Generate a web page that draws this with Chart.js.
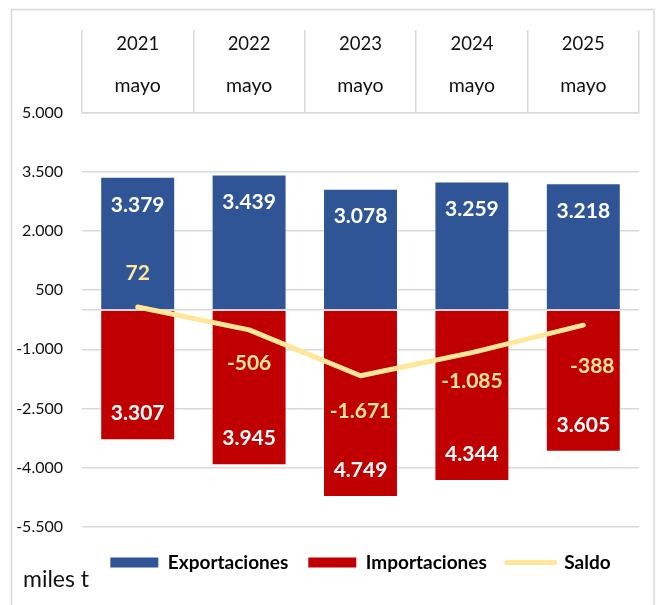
<!DOCTYPE html>
<html>
<head>
<meta charset="utf-8">
<script src="https://cdn.jsdelivr.net/npm/chart.js@4.4.1/dist/chart.umd.min.js"></script>
<style>
  html, body { margin: 0; padding: 0; background: #ffffff; }
  #wrap { position: relative; width: 660px; height: 605px; }
  canvas { display: block; }
</style>
</head>
<body>
<div id="wrap"><canvas id="c" width="660" height="605"></canvas></div>
<script>
// ---- data ----
const years = ['2021', '2022', '2023', '2024', '2025'];
const months = ['mayo', 'mayo', 'mayo', 'mayo', 'mayo'];
const exportaciones = [3379, 3439, 3078, 3259, 3218];
const importaciones = [-3307, -3945, -4749, -4344, -3605];
const saldo = [72, -506, -1671, -1085, -388];
const seriesNames = ['Exportaciones', 'Importaciones', 'Saldo'];
const unitLabel = 'miles t';
const yMin = -5500, yMax = 5000, yStep = 1500;

// ---- styles ----
const FONT = "Lato, 'Open Sans', 'DejaVu Sans', sans-serif";
const BLUE = '#2F5597';
const RED = '#C00000';
const YELLOW = '#FFE699';
const GRID = '#d9d9d9';
// label offsets for the Saldo values (px, relative to the point)
const saldoLabelDy = [-34, 33, 36, 29, 41];
const saldoLabelDx = [0, 0, 0, 0, 9];

function fmt(v) {
  const s = Math.round(Math.abs(v)).toString().replace(/\B(?=(\d{3})+(?!\d))/g, '.');
  return (v < 0 ? '-' : '') + s;
}

const frame = {
  id: 'frame',
  beforeDraw(chart) {
    const ctx = chart.ctx;
    ctx.save();
    ctx.strokeStyle = GRID;
    ctx.lineWidth = 1.5;
    ctx.strokeRect(11.5, 9.5, 642.5, 700);
    ctx.restore();
  }
};

const header = {
  id: 'header',
  afterDraw(chart) {
    const ctx = chart.ctx;
    const xs = chart.scales.x;
    ctx.save();
    ctx.fillStyle = '#111111';
    ctx.textAlign = 'center';
    ctx.textBaseline = 'middle';
    years.forEach((y, i) => {
      const x = xs.getPixelForValue(i);
      ctx.font = '18.5px ' + FONT;
      ctx.fillText(y, x, 44);
      ctx.font = '19.5px ' + FONT;
      ctx.fillText(months[i], x, 86);
    });
    ctx.font = '23px ' + FONT;
    ctx.textAlign = 'left';
    ctx.fillText(unitLabel, 23, 580);
    ctx.restore();
  }
};

const valueLabels = {
  id: 'valueLabels',
  afterDatasetsDraw(chart) {
    const ctx = chart.ctx;
    ctx.save();
    ctx.font = 'bold 21px ' + FONT;
    ctx.textAlign = 'center';
    ctx.textBaseline = 'middle';
    const mExp = chart.getDatasetMeta(0);
    const mImp = chart.getDatasetMeta(1);
    const mSal = chart.getDatasetMeta(2);
    ctx.fillStyle = '#ffffff';
    mExp.data.forEach((el, i) => ctx.fillText(fmt(exportaciones[i]), el.x, el.y + 28));
    mImp.data.forEach((el, i) => ctx.fillText(fmt(Math.abs(importaciones[i])), el.x, el.y - 27));
    ctx.fillStyle = YELLOW;
    mSal.data.forEach((el, i) => ctx.fillText(fmt(saldo[i]), el.x + saldoLabelDx[i], el.y + saldoLabelDy[i]));
    ctx.restore();
  }
};

new Chart(document.getElementById('c'), {
  type: 'bar',
  data: {
    labels: years,
    datasets: [
      { label: seriesNames[0], data: exportaciones, backgroundColor: BLUE,
        borderColor: 'rgba(255,255,255,0.45)', borderWidth: 1, stack: 's', order: 1,
        barPercentage: 0.673, categoryPercentage: 1 },
      { label: seriesNames[1], data: importaciones, backgroundColor: RED,
        borderColor: 'rgba(255,255,255,0.45)', borderWidth: 1, stack: 's', order: 1,
        barPercentage: 0.673, categoryPercentage: 1 },
      { type: 'line', label: seriesNames[2], data: saldo, borderColor: YELLOW, backgroundColor: YELLOW,
        borderWidth: 5, pointRadius: 0, tension: 0, borderCapStyle: 'round', borderJoinStyle: 'round',
        stack: 'line', order: 0 }
    ]
  },
  options: {
    responsive: false,
    animation: false,
    layout: { padding: { left: 12, right: 21, top: 30, bottom: 23 } },
    scales: {
      x: {
        position: 'top',
        stacked: true,
        grid: { offset: true, drawOnChartArea: false, drawTicks: true, tickLength: 83, color: GRID, lineWidth: 1.5 },
        border: { display: true, color: GRID, width: 1.5 },
        ticks: { display: false }
      },
      y: {
        stacked: true,
        min: yMin, max: yMax,
        afterBuildTicks(scale) {
          scale.ticks.push({ value: 0 });
          scale.ticks.sort((a, b) => a.value - b.value);
        },
        afterFit(scale) { scale.width = 70; },
        ticks: {
          stepSize: yStep,
          padding: 19,
          color: '#111111',
          font: { family: FONT, size: 16 },
          callback: (v) => (v === 0 ? '' : fmt(v))
        },
        grid: { color: GRID, lineWidth: 1.5, drawTicks: false },
        border: { display: false }
      }
    },
    plugins: {
      tooltip: { enabled: false },
      legend: {
        position: 'bottom',
        fullSize: false,
        title: { display: true, text: '', font: { size: 1, lineHeight: 1 }, padding: { top: 5.5, bottom: 0 } },
        labels: {
          color: '#000000',
          font: { family: FONT, size: 19, weight: 'bold' },
          usePointStyle: true,
          pointStyleWidth: 48,
          boxWidth: 48,
          boxHeight: 10,
          padding: 20,
          sort: (a, b) => a.datasetIndex - b.datasetIndex,
          generateLabels(chart) {
            const items = Chart.defaults.plugins.legend.labels.generateLabels(chart);
            items.forEach(it => {
              if (it.datasetIndex === 2) {
                it.pointStyle = 'line'; it.lineWidth = 5; it.strokeStyle = YELLOW; it.lineCap = 'round';
              } else {
                it.pointStyle = 'rect'; it.lineWidth = 0;
                it.fillStyle = it.datasetIndex === 0 ? BLUE : RED;
              }
            });
            return items;
          }
        }
      }
    }
  },
  plugins: [frame, header, valueLabels]
});
</script>
</body>
</html>
